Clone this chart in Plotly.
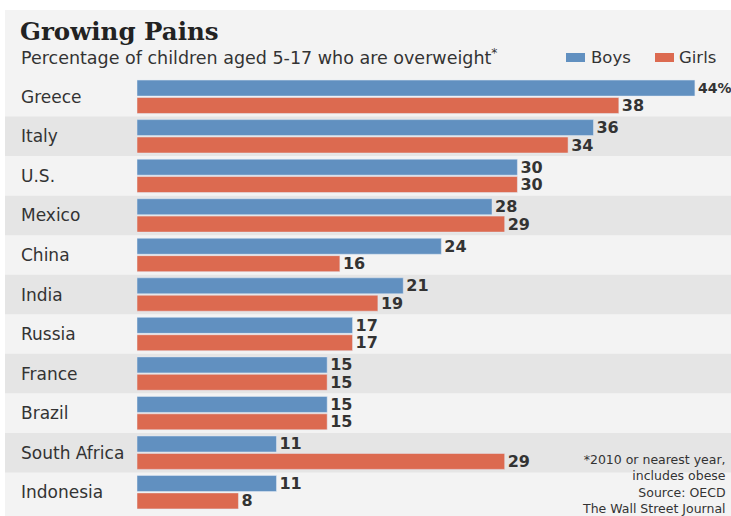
import plotly.graph_objects as go

countries = ["Greece", "Italy", "U.S.", "Mexico", "China", "India", "Russia",
             "France", "Brazil", "South Africa", "Indonesia"]
boys = [44, 36, 30, 28, 24, 21, 17, 15, 15, 11, 11]
girls = [38, 34, 30, 29, 16, 19, 17, 15, 15, 29, 8]
boys_text = ["44%"] + [str(v) for v in boys[1:]]
girls_text = [str(v) for v in girls]

W, H = 731, 516
L, R, T, B = 137, 0, 77, 4
PW, PH = W - L - R, H - T - B

def px(x):
    return (x - L) / PW

def py(y):
    return (H - B - y) / PH

BLUE = "#6190c0"
RED = "#dc6a50"
BG = "#f3f3f3"
BAND = "#e5e5e5"
TXT = "#333333"
boys_sizes = [14] + [16] * (len(boys) - 1)   # keep the "44%" label inside the page

fig = go.Figure()
fig.add_trace(go.Bar(y=countries, x=boys, orientation="h", name="Boys",
                     marker_color=BLUE, text=boys_text, textposition="outside",
                     constraintext="none",
                     textfont=dict(family="DejaVu Sans", size=boys_sizes, color=TXT,
                                   weight="bold"),
                     cliponaxis=False, showlegend=False))
fig.add_trace(go.Bar(y=countries, x=girls, orientation="h", name="Girls",
                     marker_color=RED, text=girls_text, textposition="outside",
                     constraintext="none",
                     textfont=dict(family="DejaVu Sans", size=16, color=TXT, weight="bold"),
                     cliponaxis=False, showlegend=False))

shapes = [dict(type="rect", xref="paper", yref="paper", x0=px(5), x1=px(W),
               y0=py(H), y1=py(10), fillcolor=BG, line_width=0, layer="below")]
for i in range(len(countries)):
    if i % 2 == 1:
        shapes.append(dict(type="rect", xref="paper", yref="y", x0=px(5), x1=1,
                           y0=i - 0.5, y1=i + 0.5, fillcolor=BAND, line_width=0,
                           layer="below"))
# legend squares
shapes.append(dict(type="rect", xref="paper", yref="paper", x0=px(566), x1=px(585),
                   y0=py(62), y1=py(53), fillcolor=BLUE, line_width=0))
shapes.append(dict(type="rect", xref="paper", yref="paper", x0=px(655), x1=px(674),
                   y0=py(62), y1=py(53), fillcolor=RED, line_width=0))

annotations = []
for i, c in enumerate(countries):
    annotations.append(dict(x=px(19), y=c, xref="paper", yref="y", text=c,
                            showarrow=False, xanchor="left", yanchor="middle",
                            font=dict(family="DejaVu Sans", size=17, color=TXT)))
annotations += [
    dict(x=px(18), y=py(31), xref="paper", yref="paper", text="<b>Growing Pains</b>",
         showarrow=False, xanchor="left", yanchor="middle",
         font=dict(family="DejaVu Serif", size=24.5, color="#222222")),
    dict(x=px(19), y=py(57), xref="paper", yref="paper",
         text="Percentage of children aged 5-17 who are overweight<sup>*</sup>",
         showarrow=False, xanchor="left", yanchor="middle",
         font=dict(family="DejaVu Sans", size=17.5, color=TXT)),
    dict(x=px(589), y=py(58), xref="paper", yref="paper", text="Boys",
         showarrow=False, xanchor="left", yanchor="middle",
         font=dict(family="DejaVu Sans", size=16.5, color=TXT)),
    dict(x=px(677), y=py(58), xref="paper", yref="paper", text="Girls",
         showarrow=False, xanchor="left", yanchor="middle",
         font=dict(family="DejaVu Sans", size=16.5, color=TXT)),
]
foot = ["*2010 or nearest year,", "includes obese", "Source: OECD", "The Wall Street Journal"]
annotations.append(dict(x=px(728), y=py(484), xref="paper", yref="paper",
                        text="<br>".join(foot), showarrow=False, xanchor="right",
                        yanchor="middle", align="right",
                        font=dict(family="DejaVu Sans", size=12.5, color="#333333")))

fig.update_layout(
    width=W, height=H, margin=dict(l=L, r=R, t=T, b=B, autoexpand=False),
    paper_bgcolor="white", plot_bgcolor="rgba(0,0,0,0)",
    barmode="group", bargap=0.12, bargroupgap=0.08,
    xaxis=dict(range=[0, PW / 12.68], visible=False, fixedrange=True),
    yaxis=dict(autorange="reversed", showticklabels=False, showgrid=False,
               zeroline=False, showline=False, ticks="", fixedrange=True),
    shapes=shapes, annotations=annotations,
)

fig.write_html("out.html", config={"displayModeBar": False},
               post_script="document.body.style.margin='0';document.body.style.overflow='hidden';")
